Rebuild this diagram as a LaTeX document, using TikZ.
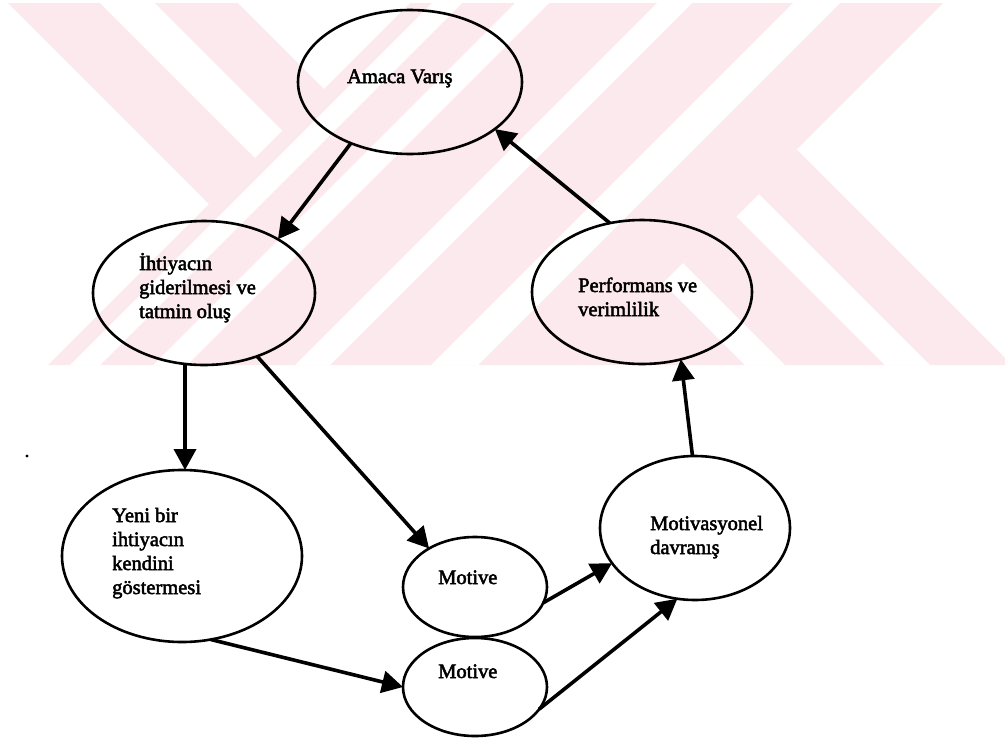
\documentclass[tikz,border=0pt]{standalone}
\usepackage{fontspec}
\setmainfont{Liberation Serif}
\newfontfamily\scanfont{Liberation Serif}[FakeBold=2.4]
\usetikzlibrary{shapes.geometric,arrows.meta}
\definecolor{wm}{RGB}{252,233,237}
\begin{document}
\begin{tikzpicture}[x=1pt,y=-1pt,
  ell/.style={draw=black, line width=2.6pt, ellipse, inner sep=0pt, outer sep=0pt},
  lbl/.style={anchor=base west, inner sep=0pt, align=left, font=\scanfont\fontsize{20.5}{24}\selectfont},
  arr/.style={line width=3.6pt, -{Triangle[length=21pt,width=22pt]}},
  wmfill/.style={fill=wm, draw=none},
  wmwhite/.style={fill=white, draw=none}]
\useasboundingbox (0,0) rectangle (1005,740);
\fill[white] (0,0) rectangle (1005,740);
% watermark
\begin{scope}
  \clip (0,3) rectangle (1005,365);
  \path[wmfill] (410,3) -- (943,3) -- (581,365) -- (48,365) -- cycle;
  \path[wmfill] (8,3) -- (100,3) -- (261,164) -- (215,210) -- cycle;
  \path[wmfill] (155,3) -- (238,3) -- (330,95) -- (288.5,136.5) -- cycle;
  \path[wmfill] (796.5,149.5) -- (1012,365) -- (581,365) -- cycle;
  % white stripes in field
  \path[wmwhite] (432,3) -- (462,3) -- (100,365) -- (70,365) -- cycle;
  \path[wmwhite] (515,3) -- (549,3) -- (187,365) -- (153,365) -- cycle;
  \path[wmwhite] (657,3) -- (692,3) -- (330,365) -- (295,365) -- cycle;
  \path[wmwhite] (793,3) -- (840,3) -- (478,365) -- (431,365) -- cycle;
  % white stripes in K leg
  \path[wmwhite] (736.5,216.5) -- (759,194) -- (930,365) -- (885,365) -- cycle;
  \path[wmwhite] (663,283) -- (683,263) -- (785,365) -- (745,365) -- cycle;
\end{scope}
\fill (27,456) circle (1.6pt);
% ellipses
\node[ell, minimum width=224pt, minimum height=144pt] (amaca) at (410,82) {};
\node[ell, minimum width=222pt, minimum height=144pt] (ihtiyac) at (204,293) {};
\node[ell, minimum width=220pt, minimum height=144pt] (perf) at (642,292) {};
\node[ell, minimum width=240pt, minimum height=172pt] (yeni) at (182,556) {};
\node[ell, minimum width=144pt, minimum height=100pt] (mot1) at (475,587) {};
\node[ell, minimum width=144pt, minimum height=98pt] (mot2) at (475,687) {};
\node[ell, minimum width=190pt, minimum height=144pt] (motiv) at (695,528) {};
% labels (anchor = baseline of last line)
\node[lbl] (tAmaca) at (347,83) {Amaca Varış};
\node[lbl] (tIht) at (139,318) {İhtiyacın\\giderilmesi ve\\tatmin oluş};
\node[lbl] (tPerf) at (578,316) {Performans ve\\verimlilik};
\node[lbl] (tYeni) at (112,594) {Yeni bir\\ihtiyacın\\kendini\\göstermesi};
\node[lbl] (tMot1) at (438,584) {Motive};
\node[lbl] (tMot2) at (438,678) {Motive};
\node[lbl] (tMotiv) at (650,554) {Motivasyonel\\davranış};
% arrows
\draw[arr] (amaca.226) -- (ihtiyac.36);
\draw[arr] (perf.115) -- (amaca.331);
\draw[arr] (ihtiyac.255) -- (yeni.88);
\draw[arr] (ihtiyac.310) -- (mot1.140);
\draw[arr] (yeni.289) -- (mot2.west);
\draw[arr] (mot1.-13) -- (motiv.203);
\draw[arr] (mot2.-19) -- (motiv.256);
\draw[arr] (motiv.92) -- (perf.300);
\end{tikzpicture}
\end{document}
